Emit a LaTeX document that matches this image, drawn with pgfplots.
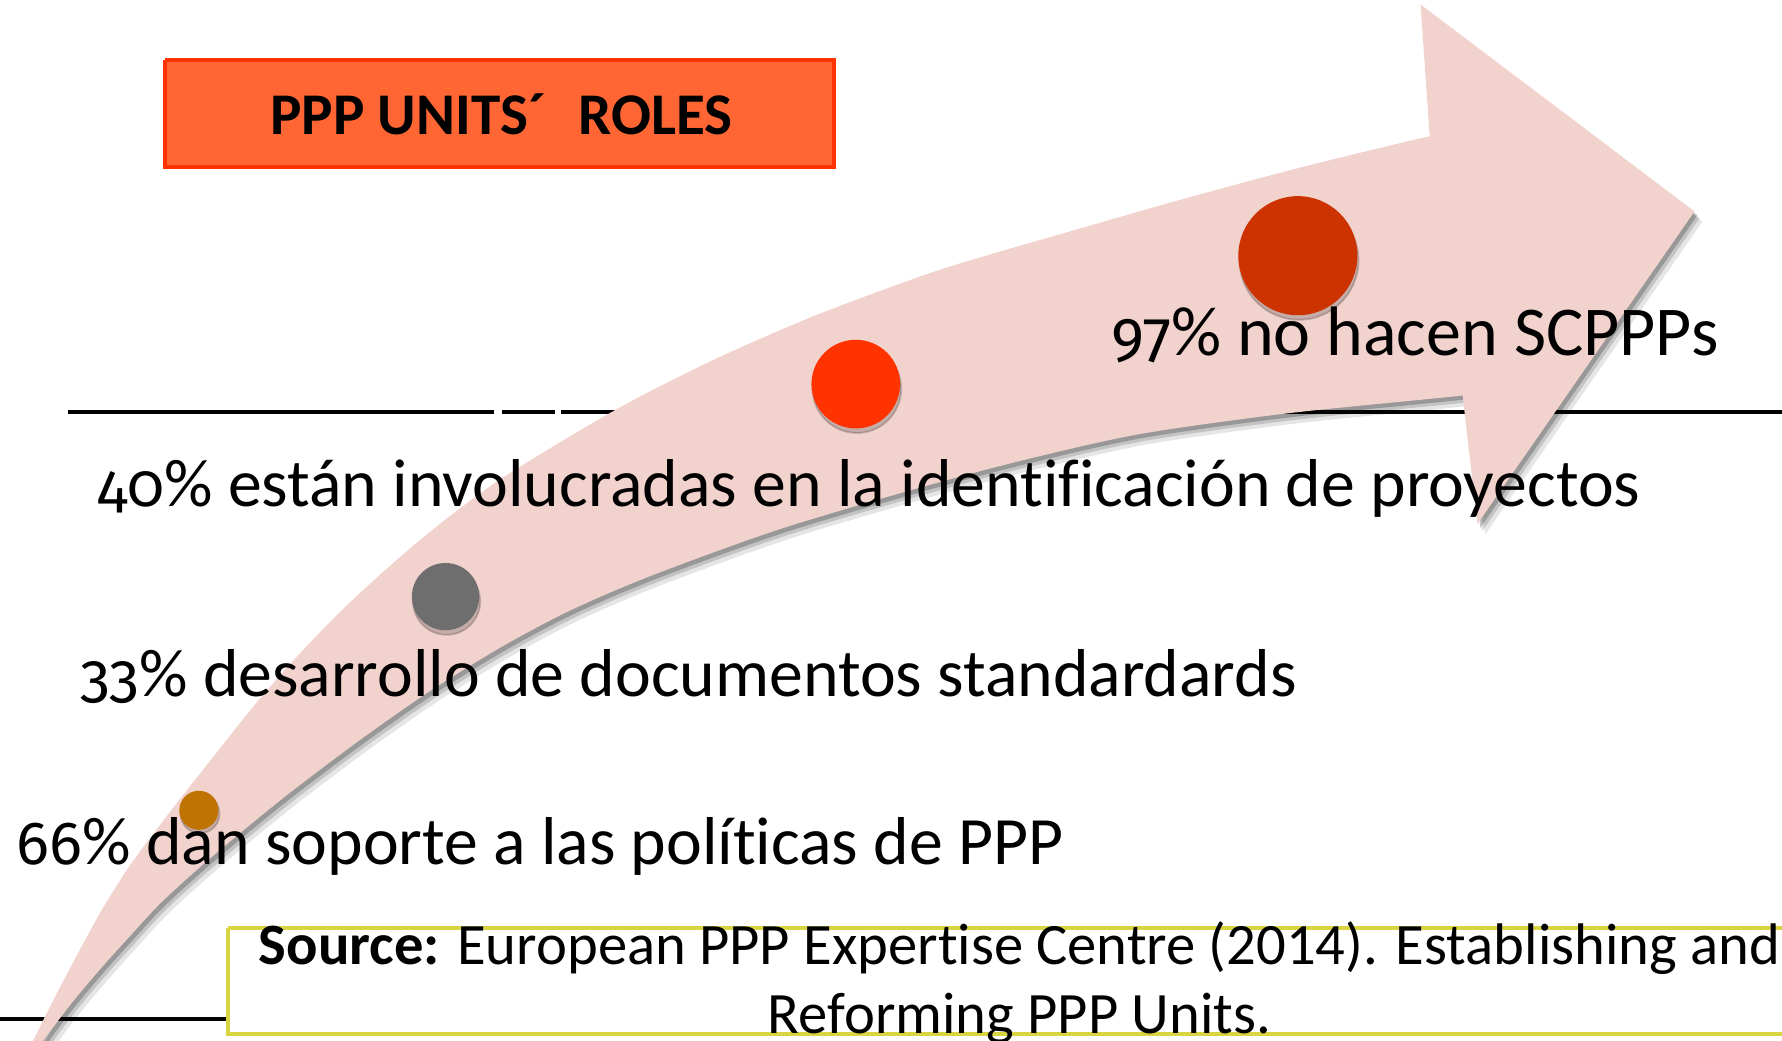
\documentclass[border=0pt]{standalone}
\usepackage{pgfplots}
\pgfplotsset{compat=1.18}
\usepackage{pgfplotstable}
\usepackage{fontspec}
\setmainfont{Carlito}[Ligatures=CommonOff]
\newfontfamily\osf{Fira Sans}[Numbers=OldStyle, Scale=0.9]

\definecolor{arrowpink}{RGB}{242,210,205}
\definecolor{titlefill}{RGB}{255,102,51}
\definecolor{titleborder}{RGB}{255,51,0}
\definecolor{c66}{RGB}{191,115,0}
\definecolor{c33}{RGB}{110,110,110}
\definecolor{c40}{RGB}{255,51,0}
\definecolor{c97}{RGB}{204,51,0}
\definecolor{srcborder}{RGB}{216,212,66}

\newcommand{\labfont}{\fontsize{14.9}{18}\selectfont}
\newcommand{\srcfont}{\fontsize{12.9}{15}\selectfont}

% shaft of the curved arrow (picture coordinates, y downwards)
\pgfplotstableread{
x y
25 925
29 916
48 878
68 840
90 800
114 762
140 727
160 701
190 663
226 618
262 577
308 530
371 474
440 422
541 361
625 318
709 281
780 254
844 232
968 196
1056 171
1150 146
1258 120
1295 115
1295 345
1287 348
1139 363
1027 378
968 389
880 410
792 434
682 467
572 507
500 538
440 570
380 607
328 643
290 671
252 700
215 730
176 763
141 795
115 823
88 853
62 884
38 916
34 925
}\shafttab

% head of the arrow
\pgfplotstableread{
x y
1258 120
1250 4
1491 186
1300 461
1287 348
1258 120
}\headtab

\begin{document}
\begin{tikzpicture}
\begin{axis}[name=ax,
  width=392pt, height=229pt, scale only axis,
  xmin=0, xmax=1568, ymin=0, ymax=916, y dir=reverse,
  hide axis, clip=true]

% horizontal rules
\addplot[black, line width=0.7pt, forget plot] coordinates {(60,362.5)(435,362.5)};
\addplot[black, line width=0.7pt, forget plot] coordinates {(442,362.5)(488,362.5)};
\addplot[black, line width=0.7pt, forget plot] coordinates {(494,362.5)(1568,362.5)};
\addplot[black, line width=0.7pt, forget plot] coordinates {(0,896.6)(201,896.6)};

% arrow shadow
\addplot[smooth, draw=none, fill=black, fill opacity=0.10, x filter/.expression={x+7}, y filter/.expression={y+9}] table {\shafttab};
\addplot[smooth, draw=none, fill=black, fill opacity=0.15, x filter/.expression={x+4.5}, y filter/.expression={y+6}] table {\shafttab};
\addplot[smooth, draw=none, fill=black, fill opacity=0.22, x filter/.expression={x+2.5}, y filter/.expression={y+3.5}] table {\shafttab};
\addplot[draw=none, fill=black, fill opacity=0.10, x filter/.expression={x+7}, y filter/.expression={y+9}] table {\headtab};
\addplot[draw=none, fill=black, fill opacity=0.15, x filter/.expression={x+4.5}, y filter/.expression={y+6}] table {\headtab};
\addplot[draw=none, fill=black, fill opacity=0.22, x filter/.expression={x+2.5}, y filter/.expression={y+3.5}] table {\headtab};
% arrow
\addplot[smooth, draw=none, fill=arrowpink] table {\shafttab};
\addplot[draw=none, fill=arrowpink] table {\headtab};

% circle shadows
\addplot[only marks, mark=*, mark size=4.3pt, color=black, opacity=0.18] coordinates {(176,716)};
\addplot[only marks, mark=*, mark size=7.4pt, color=black, opacity=0.18] coordinates {(393,529)};
\addplot[only marks, mark=*, mark size=9.75pt, color=black, opacity=0.18] coordinates {(754,342)};
\addplot[only marks, mark=*, mark size=13.1pt, color=black, opacity=0.18] coordinates {(1143,229)};
% circles
\addplot[only marks, mark=*, mark size=4.1pt, color=c66] coordinates {(175,713)};
\addplot[only marks, mark=*, mark size=7.2pt, color=c33] coordinates {(392,525)};
\addplot[only marks, mark=*, mark size=9.55pt, color=c40] coordinates {(753,338)};
\addplot[only marks, mark=*, mark size=12.9pt, color=c97] coordinates {(1142,225)};

% labels
\node[anchor=base west, inner sep=0, font=\fontsize{15.4}{18}\selectfont] at (axis cs:977,312.4) {{\osf 97}\% no hacen SCPPPs};
\node[anchor=base west, inner sep=0, font=\labfont] at (axis cs:85,445.5) {{\osf 40}\% están involucradas en la identificación de proyectos};
\node[anchor=base west, inner sep=0, font=\labfont] at (axis cs:70,613) {{\osf 33}\% desarrollo de documentos standardards};
\node[anchor=base west, inner sep=0, font=\labfont] at (axis cs:14,761) {{\osf 66}\% dan soporte a las políticas de PPP};

% title box
\addplot[fill=titlefill, draw=titleborder, line width=0.8pt] coordinates {(145,53)(734,53)(734,147)(145,147)(145,53)};
\node[anchor=base, inner sep=0, font=\fontsize{13}{15}\selectfont\bfseries] at (axis cs:441,118) {PPP UNITS´\hspace{0.55em}ROLES};

% source box
\addplot[fill=white, draw=srcborder, line width=0.9pt] coordinates {(201,816.3)(1640,816.3)(1640,910)(201,910)(201,816.3)};
\node[anchor=base, inner sep=0, font=\srcfont] at (axis cs:897,848.7) {\textbf{Source:} European PPP Expertise Centre (2014). Establishing and};
\node[anchor=base, inner sep=0, font=\srcfont] at (axis cs:897,909.4) {Reforming PPP Units.};
\end{axis}
\pgfresetboundingbox
\path[use as bounding box] (ax.south west) rectangle (ax.north east);
\end{tikzpicture}
\end{document}
